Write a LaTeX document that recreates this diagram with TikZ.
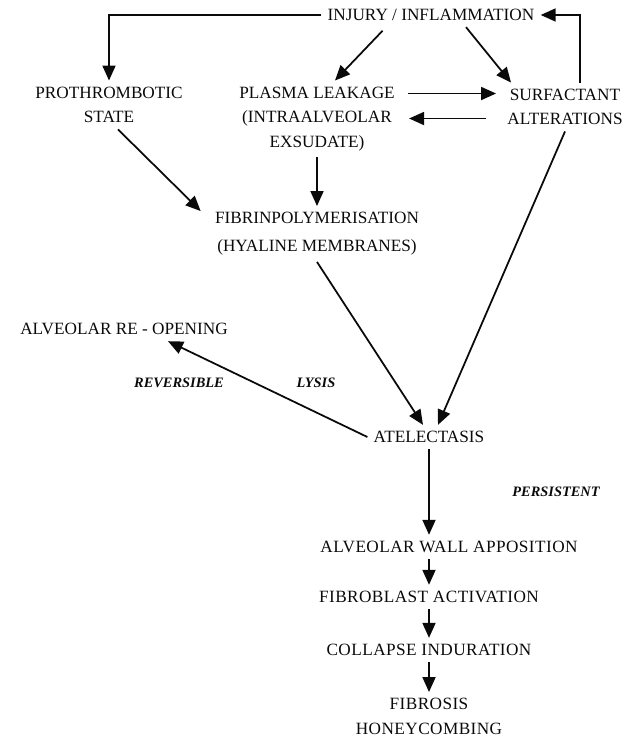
\documentclass[tikz,border=0pt]{standalone}
\usepackage{fontspec}
\setmainfont{Liberation Serif}
\usetikzlibrary{arrows.meta,positioning,calc}
\definecolor{Tinta}{RGB}{10,10,10}
\tikzset{
  flowtxt/.style={align=center, font=\fontsize{9.8}{14}\selectfont, inner sep=0.12cm, text=Tinta},
  chaintxt/.style={flowtxt, font=\fontsize{9.8}{14}\selectfont\addfontfeature{LetterSpace=2.5}},
  tagtxt/.style={font=\fontsize{8.2}{10}\selectfont\bfseries\itshape, text=Tinta, inner sep=1pt},
  flowarr/.style={-{Triangle[length=0.3cm, width=0.26cm]}, line width=1pt, Tinta},
}
\begin{document}
\begin{tikzpicture}
  \useasboundingbox (0,0) rectangle (12.66,-14.76);
  % ---- nodos ----
  \node[flowtxt] (inj) at (8.62,-0.30) {INJURY / INFLAMMATION};
  \node[flowtxt] (proth) at (2.18,-2.10) {PROTHROMBOTIC\\ STATE};
  \node[flowtxt] (plasma) at (6.34,-2.38) {PLASMA LEAKAGE\\ (INTRAALVEOLAR\\ EXSUDATE)};
  \node[flowtxt] (surf) at (11.30,-2.14) {SURFACTANT\\ ALTERATIONS};
  \node[flowtxt] (fibrin) at (6.34,-4.68) {FIBRINPOLYMERISATION\\[2pt] (HYALINE MEMBRANES)};
  \node[flowtxt] (reop) at (2.48,-6.58) {ALVEOLAR RE - OPENING};
  \node[flowtxt] (atel) at (8.58,-8.74) {ATELECTASIS};
  \node[chaintxt] (wall) at (8.98,-10.94) {ALVEOLAR WALL APPOSITION};
  \node[chaintxt, on grid, below=3.2cm of atel] (fibro) {FIBROBLAST ACTIVATION};
  \node[chaintxt, on grid, below=1.06cm of fibro] (collapse) {COLLAPSE INDURATION};
  \node[chaintxt, on grid, below=1.33cm of collapse] (fibrosis) {FIBROSIS\\ HONEYCOMBING};
  \node[tagtxt] (revtag) at (3.58,-7.66) {REVERSIBLE};
  \node[tagtxt] (lystag) at (6.32,-7.66) {LYSIS};
  \node[tagtxt] (pertag) at (11.12,-9.84) {PERSISTENT};
  % ---- flechas ----
  \draw[flowarr] (inj.west) -| (proth.north);
  \draw[flowarr] ([xshift=0.3cm]surf.north) |- (inj.east);
  \draw[flowarr, shorten <=0.1cm] ([xshift=-0.9cm]inj.south) -- ([xshift=0.36cm]plasma.north);
  \draw[flowarr] ([xshift=0.7cm]inj.south) -- ([xshift=-1.08cm]surf.north);
  \draw[flowarr, shorten <=0.14cm, shorten >=0.1cm] ($(plasma.north east)+(0,-0.26)$) -- ($(plasma.north east -| surf.west)+(0,-0.26)$);
  \draw[flowarr, shorten <=0.3cm, shorten >=0.16cm] ($(plasma.north east -| surf.west)+(0,-0.76)$) -- ($(plasma.north east)+(0,-0.76)$);
  \draw[flowarr] (plasma.south) -- (fibrin.north);
  \draw[flowarr] ([xshift=0.18cm]proth.south) -- ([shift={(-0.16cm,-0.1cm)}]fibrin.north west);
  \draw[flowarr] (fibrin.south) -- ([xshift=-0.12cm]atel.north);
  \draw[flowarr] (surf.south) -- ([xshift=0.18cm]atel.north);
  \draw[flowarr] (atel.west) -- ([xshift=0.88cm]reop.south);
  \draw[flowarr] (atel.south) -- (atel.south |- wall.north);
  \draw[flowarr] (fibro.north |- wall.south) -- (fibro.north);
  \draw[flowarr] (fibro.south) -- (collapse.north);
  \draw[flowarr] (collapse.south) -- (fibrosis.north);
\end{tikzpicture}
\end{document}
